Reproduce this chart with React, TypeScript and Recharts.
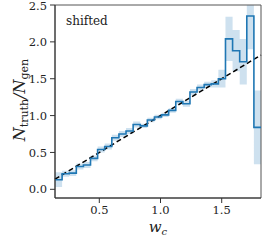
import {
  ComposedChart,
  Line,
  Area,
  XAxis,
  YAxis,
  ReferenceLine,
  ReferenceArea,
} from 'recharts'

// histogram of N_truth / N_gen in 29 bins of w_c
const xMin = 0.138
const xMax = 1.821
const binCount = 29

const ratio = [
  0.13, 0.21, 0.22, 0.31, 0.33, 0.42, 0.54, 0.58, 0.70, 0.75,
  0.79, 0.88, 0.86, 0.94, 0.98, 1.01, 1.07, 1.19, 1.16, 1.32,
  1.38, 1.42, 1.43, 1.50, 2.04, 1.88, 1.73, 2.35, 0.84,
]

const ratioErr = [
  0.10, 0.04, 0.04, 0.04, 0.04, 0.04, 0.04, 0.04, 0.04, 0.04,
  0.04, 0.04, 0.03, 0.03, 0.03, 0.03, 0.03, 0.04, 0.04, 0.04,
  0.04, 0.04, 0.05, 0.12, 0.30, 0.28, 0.31, 0.45, 0.50,
]

const xTicks = [0.5, 1.0, 1.5]
const yTicks = [0, 0.5, 1.0, 1.5, 2.0, 2.5]

const binWidth = (xMax - xMin) / binCount
const data = Array.from({ length: binCount + 1 }, (_, i) => {
  const k = Math.min(i, binCount - 1)
  return {
    x: xMin + i * binWidth,
    ratio: ratio[k],
    band: [ratio[k] - ratioErr[k], ratio[k] + ratioErr[k]],
  }
})

const serif = '"DejaVu Serif", serif'
const tickStyle = { fontSize: 11.5, fill: '#222', fontFamily: serif }

export default function App() {
  return (
    <div
      style={{
        position: 'absolute',
        left: 0,
        top: 0,
        width: 274,
        height: 240,
        background: 'white',
        fontFamily: serif,
      }}
    >
      <ComposedChart
        width={274}
        height={240}
        data={data}
        margin={{ top: 5, right: 13, left: 0, bottom: 0 }}
      >
        <XAxis
          dataKey="x"
          type="number"
          domain={[xMin, xMax]}
          ticks={xTicks}
          tickFormatter={(v: number) => v.toFixed(1)}
          allowDataOverflow
          height={42}
          tickSize={5}
          tickMargin={3}
          tick={tickStyle}
          stroke="#333"
        />
        <YAxis
          type="number"
          domain={[-0.118, 2.5]}
          ticks={yTicks}
          tickFormatter={(v: number) => v.toFixed(1)}
          allowDataOverflow
          width={55}
          tickSize={5}
          tickMargin={3}
          tick={tickStyle}
          stroke="#333"
        />
        <Area
          dataKey="band"
          type="stepAfter"
          stroke="none"
          fill="#1f77b4"
          fillOpacity={0.22}
          isAnimationActive={false}
        />
        <ReferenceLine
          segment={[{ x: xMin, y: xMin }, { x: xMax, y: xMax }]}
          stroke="#000"
          strokeWidth={1.5}
          strokeDasharray="5 3"
        />
        <Line
          dataKey="ratio"
          type="stepAfter"
          stroke="#1f77b4"
          strokeWidth={1.6}
          dot={false}
          isAnimationActive={false}
        />
        <ReferenceArea
          x1={xMin}
          x2={xMax}
          y1={-0.118}
          y2={2.5}
          fill="none"
          stroke="#555"
          strokeWidth={1}
        />
      </ComposedChart>
      <svg
        width={274}
        height={240}
        style={{ position: 'absolute', left: 0, top: 0, pointerEvents: 'none' }}
        fontFamily={serif}
        fill="#222"
      >
        <text x={66} y={25} fontSize={12}>shifted</text>
        <text x={158} y={232} fontSize={15} textAnchor="middle">
          <tspan fontStyle="italic">w</tspan>
          <tspan fontStyle="italic" fontSize={10} dy={3}>c</tspan>
        </text>
        <text transform="translate(25,100) rotate(-90)" fontSize={16} textAnchor="middle">
          <tspan fontStyle="italic">N</tspan>
          <tspan fontSize={11} dy={3}>truth</tspan>
          <tspan fontStyle="italic" dy={-3}>/N</tspan>
          <tspan fontSize={11} dy={3}>gen</tspan>
        </text>
      </svg>
    </div>
  )
}
